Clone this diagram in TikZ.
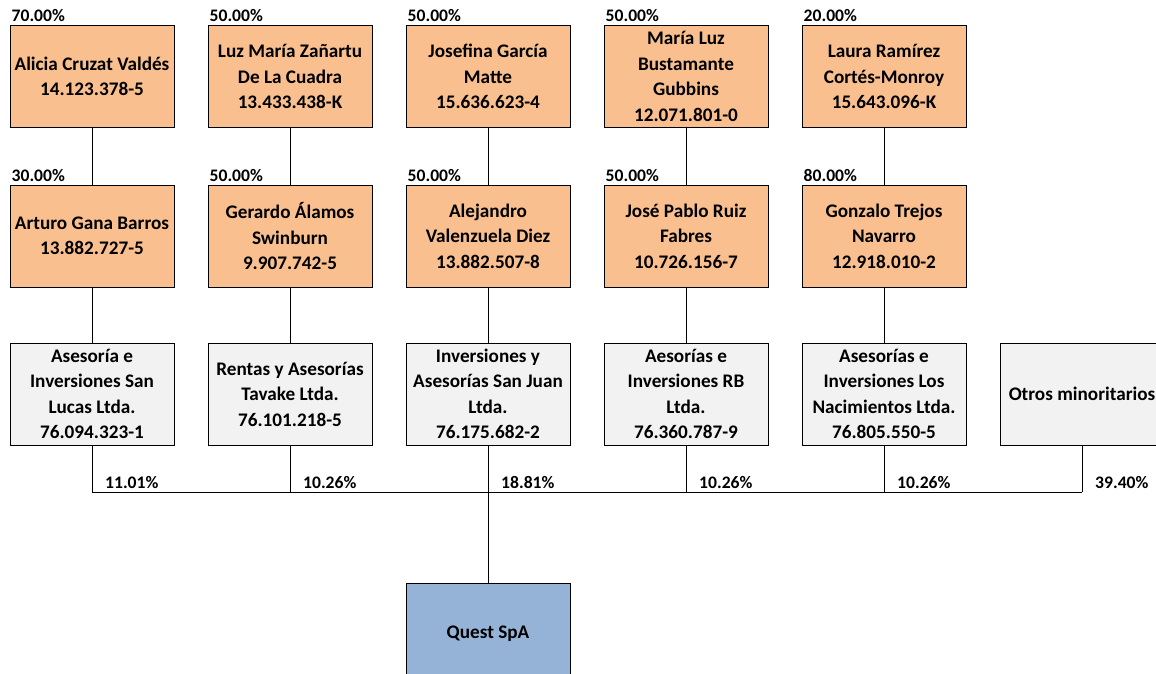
\documentclass[tikz,border=0pt]{standalone}
\usepackage{fontspec}
\setmainfont{Carlito}
\usetikzlibrary{calc}
\definecolor{pers}{HTML}{F9BF8F}
\definecolor{comp}{HTML}{F2F2F2}
\definecolor{quest}{HTML}{95B3D7}
\begin{document}
\begin{tikzpicture}[x=1pt,y=-1pt,
  box/.style={draw=black,line width=1pt,minimum width=164pt,minimum height=102pt,inner sep=0pt,align=center,font=\fontsize{19.2}{25.5}\selectfont\bfseries},
  perbox/.style={box,fill=pers},
  compbox/.style={box,fill=comp},
  questbox/.style={box,fill=quest},
  pct/.style={font=\fontsize{17.6}{20}\selectfont\bfseries,inner sep=0pt,anchor=west},
  conn/.style={draw=black,line width=1pt}]
\useasboundingbox (0,0) rectangle (1156,673);
% row 1
\node[perbox] (a1) at (92,76.5) {Alicia Cruzat Valdés\\14.123.378-5};
\node[perbox] (a2) at (290,76.5) {Luz María Zañartu\\De La Cuadra\\13.433.438-K};
\node[perbox] (a3) at (488,76.5) {Josefina García\\Matte\\15.636.623-4};
\node[perbox] (a4) at (686,76.5) {María Luz\\Bustamante\\Gubbins\\12.071.801-0};
\node[perbox] (a5) at (884,76.5) {Laura Ramírez\\Cortés-Monroy\\15.643.096-K};
% row 2
\node[perbox] (b1) at (92,236) {Arturo Gana Barros\\13.882.727-5};
\node[perbox] (b2) at (290,236) {Gerardo Álamos\\Swinburn\\9.907.742-5};
\node[perbox] (b3) at (488,236) {Alejandro\\Valenzuela Diez\\13.882.507-8};
\node[perbox] (b4) at (686,236) {José Pablo Ruiz\\Fabres\\10.726.156-7};
\node[perbox] (b5) at (884,236) {Gonzalo Trejos\\Navarro\\12.918.010-2};
% row 3
\node[compbox] (c1) at (92,394) {Asesoría e\\Inversiones San\\Lucas Ltda.\\76.094.323-1};
\node[compbox] (c2) at (290,394) {Rentas y Asesorías\\Tavake Ltda.\\76.101.218-5};
\node[compbox] (c3) at (488,394) {Inversiones y\\Asesorías San Juan\\Ltda.\\76.175.682-2};
\node[compbox] (c4) at (686,394) {Aesorías e\\Inversiones RB\\Ltda.\\76.360.787-9};
\node[compbox] (c5) at (884,394) {Asesorías e\\Inversiones Los\\Nacimientos Ltda.\\76.805.550-5};
\node[compbox] (c6) at (1082,394) {Otros minoritarios};
% quest
\node[questbox] (q) at (488,634) {Quest SpA};
% top percentages
\node[pct] (p1) at ($(a1.north west)+(2,-9)$) {70.00\%};
\node[pct] (p2) at ($(a2.north west)+(2,-9)$) {50.00\%};
\node[pct] (p3) at ($(a3.north west)+(2,-9)$) {50.00\%};
\node[pct] (p4) at ($(a4.north west)+(2,-9)$) {50.00\%};
\node[pct] (p5) at ($(a5.north west)+(2,-9)$) {20.00\%};
\node[pct] (p6) at ($(b1.north west)+(2,-9)$) {30.00\%};
\node[pct] (p7) at ($(b2.north west)+(2,-9)$) {50.00\%};
\node[pct] (p8) at ($(b3.north west)+(2,-9)$) {50.00\%};
\node[pct] (p9) at ($(b4.north west)+(2,-9)$) {50.00\%};
\node[pct] (p10) at ($(b5.north west)+(2,-9)$) {80.00\%};
% junctions
\coordinate (j1) at (92,492);
\coordinate (j2) at (290,492);
\coordinate (j3) at (488,492);
\coordinate (j4) at (686,492);
\coordinate (j5) at (884,492);
\coordinate (j6) at (1082,492);
% connectors
\foreach \i in {1,...,5}{
  \draw[conn] (a\i.south) -- (b\i.north);
  \draw[conn] (b\i.south) -- (c\i.north);
}
\foreach \i in {1,...,6}{
  \draw[conn] (c\i.south) -- (j\i);
}
\draw[conn] (j1) -- (j6);
\draw[conn] (j3) -- (q.north);
% bottom percentages
\node[pct] (s1) at ($(j1)+(13,-10)$) {11.01\%};
\node[pct] (s2) at ($(j2)+(13,-10)$) {10.26\%};
\node[pct] (s3) at ($(j3)+(13,-10)$) {18.81\%};
\node[pct] (s4) at ($(j4)+(13,-10)$) {10.26\%};
\node[pct] (s5) at ($(j5)+(13,-10)$) {10.26\%};
\node[pct] (s6) at ($(j6)+(13,-10)$) {39.40\%};
\end{tikzpicture}
\end{document}
